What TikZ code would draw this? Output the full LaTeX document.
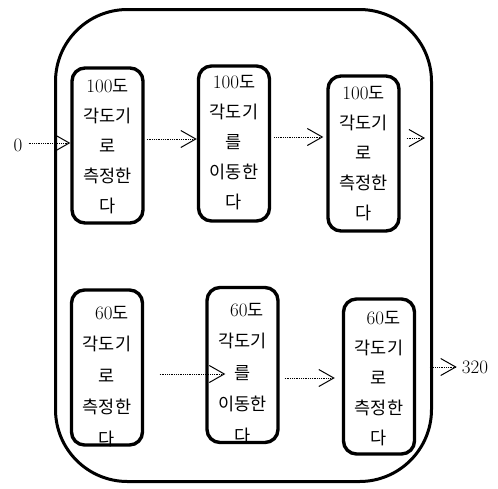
\documentclass[tikz,border=0pt]{standalone}
\usepackage{fontspec}
\newfontfamily\cjk{Noto Sans CJK KR}
\usetikzlibrary{arrows.meta}
\newcommand{\dg}[1]{{\rmfamily\fontsize{19}{30}\selectfont #1}}
\begin{document}
\begin{tikzpicture}[x=1pt,y=-1pt,
  frame/.style={draw, line width=3pt, rounded corners=72pt, minimum width=376pt, minimum height=472pt, inner sep=0pt},
  box/.style={draw, line width=3.4pt, rounded corners=13pt, minimum width=71pt, minimum height=155pt, inner sep=0pt},
  lbl/.style={align=center, inner sep=0pt, font=\fontsize{17.5}{30}\selectfont\cjk},
  lblb/.style={align=center, inner sep=0pt, font=\fontsize{17.5}{31.5}\selectfont\cjk},
  num/.style={inner sep=0pt, font=\rmfamily\fontsize{19}{22}\selectfont},
  arr/.style={line width=0.8pt, dash pattern=on 0.9pt off 0.9pt,
    -{Straight Barb[length=15pt,width=17pt,line width=1pt]}}]
\useasboundingbox (0,0) rectangle (498,488);
\node[frame] (fr) at (243.5,245.5) {};
% top row
\node[box] (b1) at (107.5,145.5) {};
\node[box] (b2) at (234,143.5) {};
\node[box] (b3) at (363.5,153.5) {};
\node[lbl] (t1) at (107.5,147) {\dg{100}도\\각도기\\로\\측정한\\다};
\node[lbl] (t2) at (234,143) {\dg{100}도\\각도기\\를\\이동한\\다};
\node[lbl] (t3) at (363.5,153.5) {\dg{100}도\\각도기\\로\\측정한\\다};
% bottom row
\node[box] (b4) at (107,367.5) {};
\node[box] (b5) at (242.5,365) {};
\node[box] (b6) at (379,376.5) {};
\node[lblb] (t4) at (107,376.5) {\hspace*{10pt}\dg{60}도\\각도기\\로\\측정한\\다};
\node[lblb] (t5) at (242.5,373.5) {\hspace*{9pt}\dg{60}도\\각도기\\를\\이동한\\다};
\node[lbl] (t6) at (379,379) {\hspace*{9pt}\dg{60}도\\각도기\\로\\측정한\\다};
% terminals
\node[num] (zero) at (18,145) {0};
\node[num] (end) at (475,367) {320};
\coordinate (o3) at (425,138);
% connectors
\draw[arr] ([xshift=6pt,yshift=2pt]zero.east) -- ([yshift=2pt]zero.east -| b1.west);
\draw[arr] ([xshift=2pt,yshift=6.5pt]b1.east) -- ([yshift=6.5pt]b1.east -| b2.west);
\draw[arr] ([xshift=3pt,yshift=6.5pt]b2.east) -- ([xshift=-3pt,yshift=6.5pt]b2.east -| b3.west);
\draw[arr] ([xshift=6pt]b3.east |- o3) -- (o3);
\draw[arr] ([xshift=15.5pt,yshift=-6.5pt]b4.east) -- ([xshift=20pt,yshift=-6.5pt]b4.east -| b5.west);
\draw[arr] ([xshift=5pt,yshift=-13pt]b5.east) -- ([xshift=-7pt,yshift=-13pt]b5.east -| b6.west);
\draw[arr] ([xshift=13.5pt,yshift=9.5pt]b6.east) -- ([xshift=-5pt,yshift=9.5pt]b6.east -| end.west);
\end{tikzpicture}
\end{document}
